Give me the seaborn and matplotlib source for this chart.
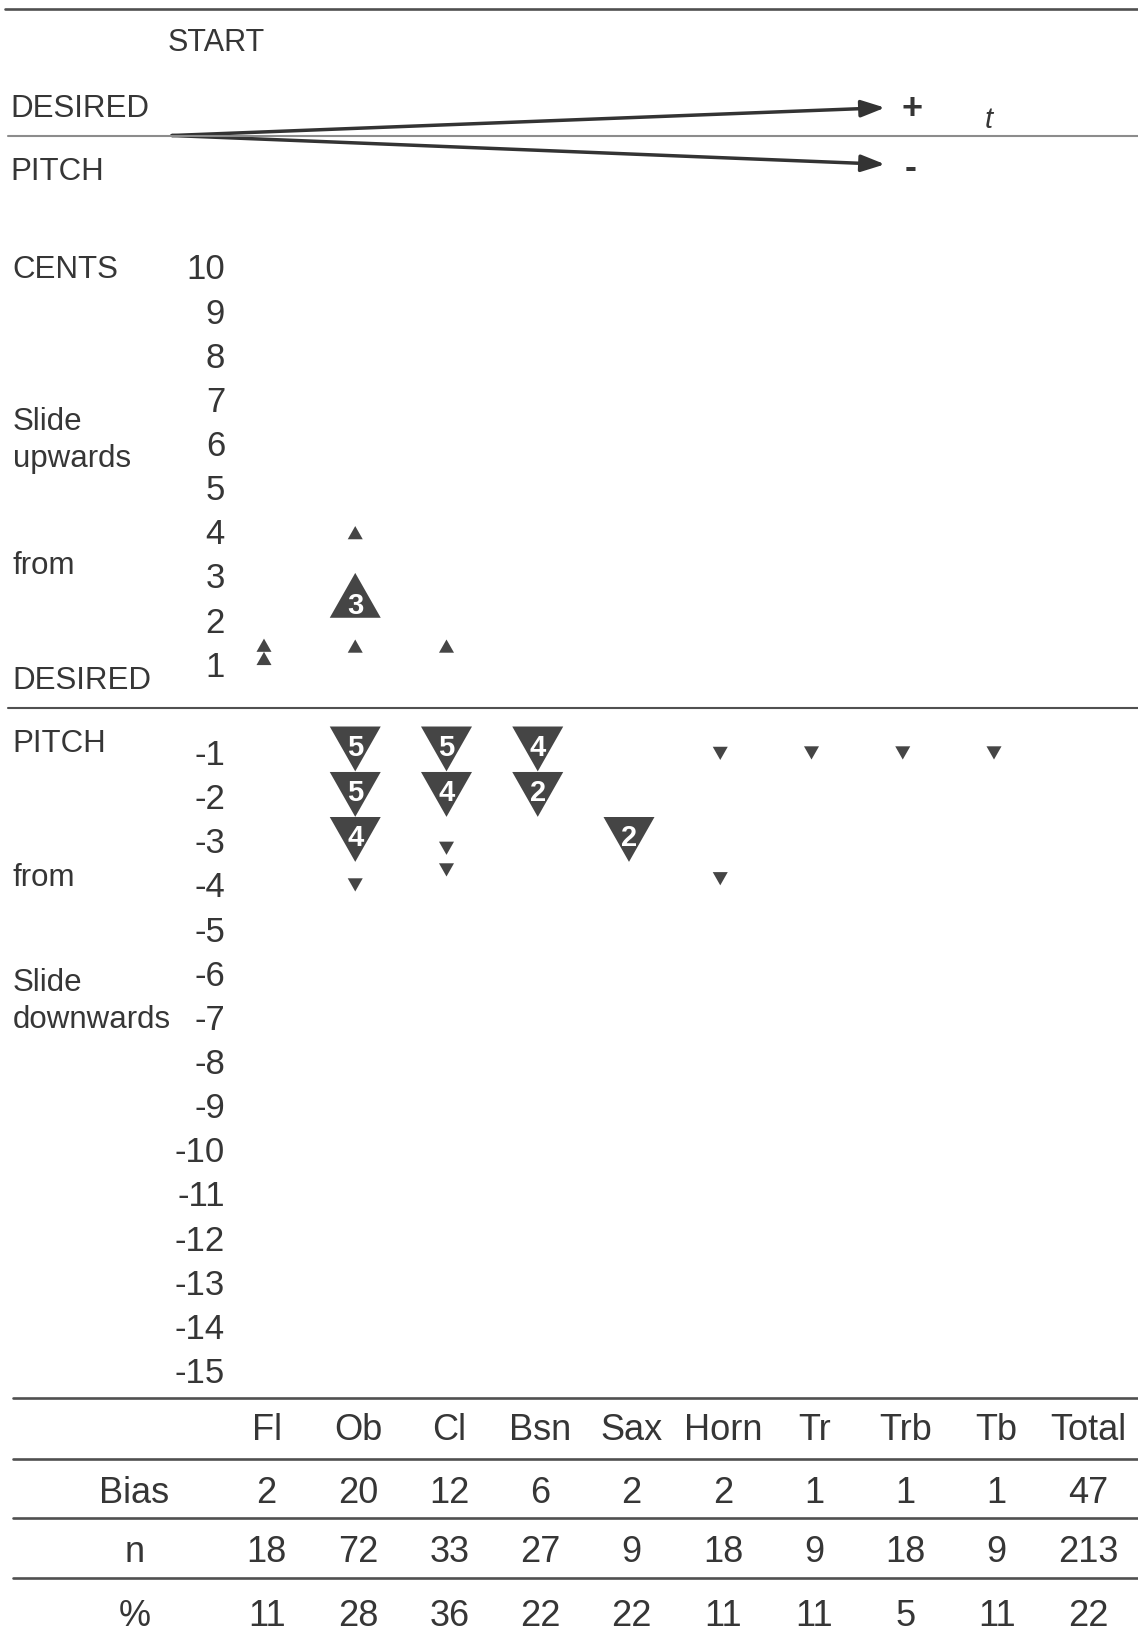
import numpy as np
import pandas as pd
import matplotlib
matplotlib.use("Agg")
import matplotlib.pyplot as plt
from matplotlib.path import Path
from matplotlib.lines import Line2D
from matplotlib import transforms
import seaborn as sns

# ---- data -------------------------------------------------------------
instruments = ["Fl", "Ob", "Cl", "Bsn", "Sax", "Horn", "Tr", "Trb", "Tb"]
table_columns = instruments + ["Total"]

# slides that start below the desired pitch and move upwards
up_instrument = ["Fl", "Fl", "Ob", "Ob", "Ob", "Cl"]
up_cents = [1.42, 1.12, 3.97, 2.55, 1.40, 1.40]
up_count = [1, 1, 1, 3, 1, 1]

# slides that start above the desired pitch and move downwards
down_instrument = ["Ob", "Ob", "Ob", "Ob",
                   "Cl", "Cl", "Cl", "Cl",
                   "Bsn", "Bsn", "Sax", "Horn", "Horn", "Tr", "Trb", "Tb"]
down_cents = [-0.93, -1.96, -2.98, -4.01,
              -0.93, -1.96, -3.18, -3.67,
              -0.93, -1.96, -2.98, -1.03, -3.87, -1.02, -1.02, -1.02]
down_count = [5, 5, 4, 1,
              5, 4, 1, 1,
              4, 2, 2, 1, 1, 1, 1, 1]

bias = [2, 20, 12, 6, 2, 2, 1, 1, 1, 47]
n_players = [18, 72, 33, 27, 9, 18, 9, 18, 9, 213]
percent = [11, 28, 36, 22, 22, 11, 11, 5, 11, 22]

cent_ticks = list(range(10, 0, -1)) + list(range(-1, -16, -1))

# ---- style ------------------------------------------------------------
sns.set_theme(style="white")
plt.rcParams["font.family"] = ["Liberation Sans", "DejaVu Sans"]
plt.rcParams["axes.unicode_minus"] = False

TEXT = "#363636"
MARK = "#454545"
RULE = "#505050"

W, H = 1138, 1632
fig = plt.figure(figsize=(W / 100, H / 100), dpi=100)
fig.patch.set_facecolor("white")


def fx(x):
    return x / W


def fy(y):
    return 1 - y / H


ax = fig.add_axes([0, 0, 1, 1])
ax.set_facecolor("none")

pos_of = {name: i for i, name in enumerate(instruments)}

up_df = pd.DataFrame({"instrument": up_instrument, "cents": up_cents, "count": up_count})
up_df["position"] = up_df["instrument"].map(pos_of)
up_df["mark"] = np.where(up_df["count"] > 1, "group", "single")

down_df = pd.DataFrame({"instrument": down_instrument, "cents": down_cents, "count": down_count})
down_df["position"] = down_df["instrument"].map(pos_of)
down_df["mark"] = np.where(down_df["count"] > 1, "group", "single")

h = 0.88
TRI_UP = Path([(-1, -h), (1, -h), (0, h), (-1, -h)],
              [Path.MOVETO, Path.LINETO, Path.LINETO, Path.CLOSEPOLY])
TRI_DOWN = Path([(-1, h), (1, h), (0, -h), (-1, h)],
                [Path.MOVETO, Path.LINETO, Path.LINETO, Path.CLOSEPOLY])
marker_sizes = {"group": 1348, "single": 117}

sns.scatterplot(data=up_df, x="position", y="cents", size="mark", sizes=marker_sizes,
                marker=TRI_UP, color=MARK, linewidth=0, edgecolor="none",
                legend=False, ax=ax, zorder=3)
sns.scatterplot(data=down_df, x="position", y="cents", size="mark", sizes=marker_sizes,
                marker=TRI_DOWN, color=MARK, linewidth=0, edgecolor="none",
                legend=False, ax=ax, zorder=3)

for df, dy in ((up_df, -5.8), (down_df, 3.2)):
    for _, row in df[df["count"] > 1].iterrows():
        ax.annotate(str(row["count"]), xy=(row["position"], row["cents"]),
                    xytext=(0, dy), textcoords="offset points",
                    ha="center", va="center_baseline", color="white",
                    fontsize=21, fontweight="bold", zorder=4)

ax.set_xlim(-2.893, 9.578)
ax.set_ylim(-20.935, 16.037)
ax.set_xlabel("")
ax.set_ylabel("")
ax.set_xticks([])
ax.set_yticks(cent_ticks)
ax.set_yticklabels([str(t) for t in cent_ticks])
ax.tick_params(axis="y", length=0, direction="in", pad=-225 * 0.72,
               labelsize=25, labelcolor=TEXT)
for sp in ax.spines.values():
    sp.set_visible(False)
ax.grid(False)

# the desired pitch line (0 cents)
ax.axhline(0, xmin=fx(8), xmax=1, color=RULE, lw=1.5, zorder=2)


# ---- rules ------------------------------------------------------------
def rule(y, x0, x1=W, color=RULE, lw=1.8):
    fig.add_artist(Line2D([fx(x0), fx(x1)], [fy(y), fy(y)],
                          transform=fig.transFigure, color=color, lw=lw))


rule(9.4, 5, lw=1.9)
rule(135.5, 8, color="#8c8c8c", lw=1.5)
for y in (1398, 1458.5, 1518.3, 1577.5):
    rule(y, 12.5, lw=1.9)

# ---- schematic of a pitch slide -------------------------------------
def label(x, y, s, size=22.5, **kw):
    fig.text(fx(x), fy(y), s, fontsize=size, color=TEXT, va="baseline", **kw)


label(216.5, 50.6, "START", size=22, ha="center")
label(10.4, 117, "DESIRED")
label(10.4, 179.7, "PITCH")

for tip_y in (107.7, 164.3):
    ax.annotate("", xy=(fx(885), fy(tip_y)), xycoords="figure fraction",
                xytext=(fx(172), fy(135.5)), textcoords="figure fraction",
                arrowprops=dict(arrowstyle="-|>,head_length=0.9,head_width=0.32",
                                mutation_scale=16, color="#333333", lw=2.5,
                                shrinkA=0, shrinkB=0))

fig.text(fx(911.7), fy(106), "+", fontsize=26, fontweight="bold", color=TEXT,
         ha="center", va="center_baseline")
fig.text(fx(910.5), fy(164.3), "-", fontsize=26, fontweight="bold", color=TEXT,
         ha="center", va="center_baseline")
fig.text(fx(989), fy(128.3), "t", fontsize=21, style="italic", color=TEXT,
         ha="center", va="baseline")

# ---- axis captions ----------------------------------------------------
label(12.7, 277.5, "CENTS")
label(12.7, 430, "Slide")
label(12.7, 467, "upwards")
label(12.7, 574, "from")
label(12.7, 689, "DESIRED")
label(12.7, 752, "PITCH")
label(12.7, 885.5, "from")
label(13, 990.7, "Slide")
label(13, 1028, "downwards")

# ---- summary table ----------------------------------------------------
col_tf = transforms.blended_transform_factory(ax.transData, fig.transFigure)
col_x = [i + 0.03 for i in range(len(table_columns))]
rows = [("", table_columns, 1439.5), ("Bias", bias, 1503.3),
        ("n", n_players, 1562.3), ("%", percent, 1626)]
for name, values, base in rows:
    if name:
        fig.text(fx(134.3), fy(base), name, fontsize=26, color=TEXT,
                 ha="center", va="baseline")
    for x, v in zip(col_x, values):
        ax.text(x, fy(base), str(v), transform=col_tf, fontsize=26,
                color=TEXT, ha="center", va="baseline")

fig.savefig("out.png", dpi=100, facecolor="white")
